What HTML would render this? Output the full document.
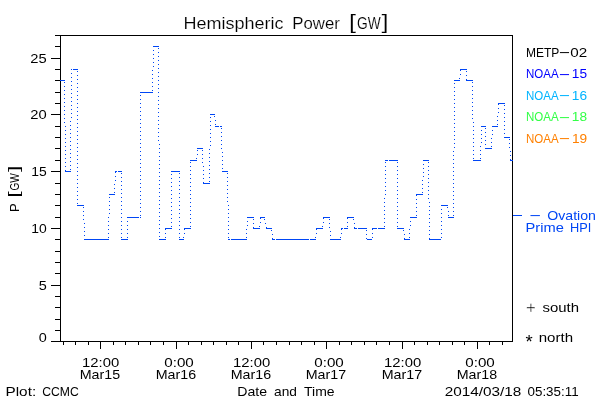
<!DOCTYPE html>
<html><head><meta charset="utf-8"><title>Hemispheric Power</title>
<style>html,body{margin:0;padding:0;background:#fff}svg{display:block}text{font-family:"Liberation Sans",sans-serif}</style>
</head><body>
<svg width="600" height="400" viewBox="0 0 600 400">
<rect width="600" height="400" fill="#fff"/>
<g stroke="#000" stroke-width="1" fill="none" shape-rendering="crispEdges">
<rect x="60.5" y="35.5" width="452" height="306"/>
<line x1="51" y1="341.5" x2="60" y2="341.5"/>
<line x1="55" y1="330.5" x2="60" y2="330.5"/>
<line x1="55" y1="319.5" x2="60" y2="319.5"/>
<line x1="55" y1="307.5" x2="60" y2="307.5"/>
<line x1="55" y1="296.5" x2="60" y2="296.5"/>
<line x1="51" y1="285.5" x2="60" y2="285.5"/>
<line x1="55" y1="273.5" x2="60" y2="273.5"/>
<line x1="55" y1="262.5" x2="60" y2="262.5"/>
<line x1="55" y1="251.5" x2="60" y2="251.5"/>
<line x1="55" y1="239.5" x2="60" y2="239.5"/>
<line x1="51" y1="228.5" x2="60" y2="228.5"/>
<line x1="55" y1="217.5" x2="60" y2="217.5"/>
<line x1="55" y1="205.5" x2="60" y2="205.5"/>
<line x1="55" y1="194.5" x2="60" y2="194.5"/>
<line x1="55" y1="183.5" x2="60" y2="183.5"/>
<line x1="51" y1="171.5" x2="60" y2="171.5"/>
<line x1="55" y1="160.5" x2="60" y2="160.5"/>
<line x1="55" y1="148.5" x2="60" y2="148.5"/>
<line x1="55" y1="137.5" x2="60" y2="137.5"/>
<line x1="55" y1="126.5" x2="60" y2="126.5"/>
<line x1="51" y1="114.5" x2="60" y2="114.5"/>
<line x1="55" y1="103.5" x2="60" y2="103.5"/>
<line x1="55" y1="92.5" x2="60" y2="92.5"/>
<line x1="55" y1="80.5" x2="60" y2="80.5"/>
<line x1="55" y1="69.5" x2="60" y2="69.5"/>
<line x1="51" y1="58.5" x2="60" y2="58.5"/>
<line x1="55" y1="46.5" x2="60" y2="46.5"/>
<line x1="55" y1="35.5" x2="60" y2="35.5"/>
<line x1="63.5" y1="342" x2="63.5" y2="345"/>
<line x1="75.5" y1="342" x2="75.5" y2="345"/>
<line x1="88.5" y1="342" x2="88.5" y2="345"/>
<line x1="100.5" y1="342" x2="100.5" y2="349"/>
<line x1="113.5" y1="342" x2="113.5" y2="345"/>
<line x1="125.5" y1="342" x2="125.5" y2="345"/>
<line x1="138.5" y1="342" x2="138.5" y2="345"/>
<line x1="150.5" y1="342" x2="150.5" y2="345"/>
<line x1="163.5" y1="342" x2="163.5" y2="345"/>
<line x1="176.5" y1="342" x2="176.5" y2="349"/>
<line x1="188.5" y1="342" x2="188.5" y2="345"/>
<line x1="201.5" y1="342" x2="201.5" y2="345"/>
<line x1="213.5" y1="342" x2="213.5" y2="345"/>
<line x1="226.5" y1="342" x2="226.5" y2="345"/>
<line x1="238.5" y1="342" x2="238.5" y2="345"/>
<line x1="251.5" y1="342" x2="251.5" y2="349"/>
<line x1="263.5" y1="342" x2="263.5" y2="345"/>
<line x1="276.5" y1="342" x2="276.5" y2="345"/>
<line x1="289.5" y1="342" x2="289.5" y2="345"/>
<line x1="301.5" y1="342" x2="301.5" y2="345"/>
<line x1="314.5" y1="342" x2="314.5" y2="345"/>
<line x1="326.5" y1="342" x2="326.5" y2="349"/>
<line x1="339.5" y1="342" x2="339.5" y2="345"/>
<line x1="351.5" y1="342" x2="351.5" y2="345"/>
<line x1="364.5" y1="342" x2="364.5" y2="345"/>
<line x1="376.5" y1="342" x2="376.5" y2="345"/>
<line x1="389.5" y1="342" x2="389.5" y2="345"/>
<line x1="402.5" y1="342" x2="402.5" y2="349"/>
<line x1="414.5" y1="342" x2="414.5" y2="345"/>
<line x1="427.5" y1="342" x2="427.5" y2="345"/>
<line x1="439.5" y1="342" x2="439.5" y2="345"/>
<line x1="452.5" y1="342" x2="452.5" y2="345"/>
<line x1="464.5" y1="342" x2="464.5" y2="345"/>
<line x1="477.5" y1="342" x2="477.5" y2="349"/>
<line x1="489.5" y1="342" x2="489.5" y2="345"/>
<line x1="502.5" y1="342" x2="502.5" y2="345"/>
</g>
<path fill="#0046f5" shape-rendering="crispEdges" d="M60 80h5v1h-5zM65 171h6v1h-6zM64 82h1v1h-1zM64 86h1v1h-1zM64 90h1v1h-1zM64 94h1v1h-1zM64 98h1v1h-1zM64 102h1v1h-1zM64 106h1v1h-1zM64 110h1v1h-1zM64 114h1v1h-1zM64 118h1v1h-1zM64 122h1v1h-1zM65 126h1v1h-1zM65 130h1v1h-1zM65 134h1v1h-1zM65 138h1v1h-1zM65 142h1v1h-1zM65 146h1v1h-1zM65 150h1v1h-1zM65 154h1v1h-1zM65 158h1v1h-1zM65 162h1v1h-1zM65 166h1v1h-1zM65 170h1v1h-1zM71 69h1v1h-1zM73 69h5v1h-5zM70 169h1v1h-1zM70 165h1v1h-1zM70 161h1v1h-1zM70 157h1v1h-1zM70 153h1v1h-1zM70 149h1v1h-1zM70 145h1v1h-1zM70 141h1v1h-1zM70 137h1v1h-1zM70 133h1v1h-1zM70 129h1v1h-1zM70 125h1v1h-1zM70 121h1v1h-1zM71 117h1v1h-1zM71 113h1v1h-1zM71 109h1v1h-1zM71 105h1v1h-1zM71 101h1v1h-1zM71 97h1v1h-1zM71 93h1v1h-1zM71 89h1v1h-1zM71 85h1v1h-1zM71 81h1v1h-1zM71 77h1v1h-1zM71 73h1v1h-1zM71 69h1v1h-1zM77 205h7v1h-7zM77 71h1v1h-1zM77 75h1v1h-1zM77 79h1v1h-1zM77 83h1v1h-1zM77 87h1v1h-1zM77 91h1v1h-1zM77 95h1v1h-1zM77 99h1v1h-1zM77 103h1v1h-1zM77 107h1v1h-1zM77 111h1v1h-1zM77 115h1v1h-1zM77 119h1v1h-1zM77 123h1v1h-1zM77 127h1v1h-1zM77 131h1v1h-1zM77 135h1v1h-1zM77 139h1v1h-1zM77 143h1v1h-1zM77 147h1v1h-1zM77 151h1v1h-1zM77 155h1v1h-1zM77 159h1v1h-1zM77 163h1v1h-1zM77 167h1v1h-1zM77 171h1v1h-1zM77 175h1v1h-1zM77 179h1v1h-1zM77 183h1v1h-1zM77 187h1v1h-1zM77 191h1v1h-1zM77 195h1v1h-1zM77 199h1v1h-1zM77 203h1v1h-1zM84 239h25v1h-25zM83 207h1v1h-1zM83 211h1v1h-1zM83 215h1v1h-1zM83 219h1v1h-1zM84 223h1v1h-1zM84 227h1v1h-1zM84 231h1v1h-1zM84 235h1v1h-1zM84 239h1v1h-1zM109 194h6v1h-6zM108 237h1v1h-1zM108 233h1v1h-1zM108 229h1v1h-1zM108 225h1v1h-1zM108 221h1v1h-1zM108 217h1v1h-1zM109 213h1v1h-1zM109 209h1v1h-1zM109 205h1v1h-1zM109 201h1v1h-1zM109 197h1v1h-1zM115 171h2v1h-2zM118 171h4v1h-4zM114 192h1v1h-1zM114 188h1v1h-1zM114 184h1v1h-1zM115 180h1v1h-1zM115 176h1v1h-1zM115 172h1v1h-1zM121 239h7v1h-7zM121 173h1v1h-1zM121 177h1v1h-1zM121 181h1v1h-1zM121 185h1v1h-1zM121 189h1v1h-1zM121 193h1v1h-1zM121 197h1v1h-1zM121 201h1v1h-1zM121 205h1v1h-1zM121 209h1v1h-1zM121 213h1v1h-1zM121 217h1v1h-1zM121 221h1v1h-1zM121 225h1v1h-1zM121 229h1v1h-1zM121 233h1v1h-1zM121 237h1v1h-1zM127 217h12v1h-12zM140 217h1v1h-1zM127 237h1v1h-1zM127 233h1v1h-1zM127 229h1v1h-1zM127 225h1v1h-1zM127 221h1v1h-1zM127 217h1v1h-1zM140 92h13v1h-13zM140 215h1v1h-1zM140 211h1v1h-1zM140 207h1v1h-1zM140 203h1v1h-1zM140 199h1v1h-1zM140 195h1v1h-1zM140 191h1v1h-1zM140 187h1v1h-1zM140 183h1v1h-1zM140 179h1v1h-1zM140 175h1v1h-1zM140 171h1v1h-1zM140 167h1v1h-1zM140 163h1v1h-1zM140 159h1v1h-1zM140 155h1v1h-1zM140 151h1v1h-1zM140 147h1v1h-1zM140 143h1v1h-1zM140 139h1v1h-1zM140 135h1v1h-1zM140 131h1v1h-1zM140 127h1v1h-1zM140 123h1v1h-1zM140 119h1v1h-1zM140 115h1v1h-1zM140 111h1v1h-1zM140 107h1v1h-1zM140 103h1v1h-1zM140 99h1v1h-1zM140 95h1v1h-1zM153 46h6v1h-6zM152 90h1v1h-1zM152 86h1v1h-1zM152 82h1v1h-1zM152 78h1v1h-1zM152 74h1v1h-1zM152 70h1v1h-1zM153 66h1v1h-1zM153 62h1v1h-1zM153 58h1v1h-1zM153 54h1v1h-1zM153 50h1v1h-1zM153 46h1v1h-1zM159 239h7v1h-7zM158 48h1v1h-1zM158 52h1v1h-1zM158 56h1v1h-1zM158 60h1v1h-1zM158 64h1v1h-1zM158 68h1v1h-1zM158 72h1v1h-1zM158 76h1v1h-1zM158 80h1v1h-1zM158 84h1v1h-1zM158 88h1v1h-1zM158 92h1v1h-1zM158 96h1v1h-1zM158 100h1v1h-1zM158 104h1v1h-1zM158 108h1v1h-1zM158 112h1v1h-1zM158 116h1v1h-1zM158 120h1v1h-1zM158 124h1v1h-1zM158 128h1v1h-1zM158 132h1v1h-1zM158 136h1v1h-1zM158 140h1v1h-1zM159 144h1v1h-1zM159 148h1v1h-1zM159 152h1v1h-1zM159 156h1v1h-1zM159 160h1v1h-1zM159 164h1v1h-1zM159 168h1v1h-1zM159 172h1v1h-1zM159 176h1v1h-1zM159 180h1v1h-1zM159 184h1v1h-1zM159 188h1v1h-1zM159 192h1v1h-1zM159 196h1v1h-1zM159 200h1v1h-1zM159 204h1v1h-1zM159 208h1v1h-1zM159 212h1v1h-1zM159 216h1v1h-1zM159 220h1v1h-1zM159 224h1v1h-1zM159 228h1v1h-1zM159 232h1v1h-1zM159 236h1v1h-1zM165 228h7v1h-7zM165 237h1v1h-1zM165 233h1v1h-1zM165 229h1v1h-1zM171 171h9v1h-9zM171 226h1v1h-1zM171 222h1v1h-1zM171 218h1v1h-1zM171 214h1v1h-1zM171 210h1v1h-1zM171 206h1v1h-1zM171 202h1v1h-1zM171 198h1v1h-1zM171 194h1v1h-1zM171 190h1v1h-1zM171 186h1v1h-1zM171 182h1v1h-1zM171 178h1v1h-1zM171 174h1v1h-1zM179 239h5v1h-5zM179 173h1v1h-1zM179 177h1v1h-1zM179 181h1v1h-1zM179 185h1v1h-1zM179 189h1v1h-1zM179 193h1v1h-1zM179 197h1v1h-1zM179 201h1v1h-1zM179 205h1v1h-1zM179 209h1v1h-1zM179 213h1v1h-1zM179 217h1v1h-1zM179 221h1v1h-1zM179 225h1v1h-1zM179 229h1v1h-1zM179 233h1v1h-1zM179 237h1v1h-1zM184 228h7v1h-7zM183 237h1v1h-1zM184 233h1v1h-1zM184 229h1v1h-1zM190 160h7v1h-7zM190 226h1v1h-1zM190 222h1v1h-1zM190 218h1v1h-1zM190 214h1v1h-1zM190 210h1v1h-1zM190 206h1v1h-1zM190 202h1v1h-1zM190 198h1v1h-1zM190 194h1v1h-1zM190 190h1v1h-1zM190 186h1v1h-1zM190 182h1v1h-1zM190 178h1v1h-1zM190 174h1v1h-1zM190 170h1v1h-1zM190 166h1v1h-1zM190 162h1v1h-1zM197 148h6v1h-6zM196 158h1v1h-1zM197 154h1v1h-1zM197 150h1v1h-1zM203 183h7v1h-7zM202 150h1v1h-1zM202 154h1v1h-1zM202 158h1v1h-1zM202 162h1v1h-1zM203 166h1v1h-1zM203 170h1v1h-1zM203 174h1v1h-1zM203 178h1v1h-1zM203 182h1v1h-1zM210 114h5v1h-5zM209 181h1v1h-1zM209 177h1v1h-1zM209 173h1v1h-1zM209 169h1v1h-1zM209 165h1v1h-1zM209 161h1v1h-1zM209 157h1v1h-1zM209 153h1v1h-1zM209 149h1v1h-1zM210 145h1v1h-1zM210 141h1v1h-1zM210 137h1v1h-1zM210 133h1v1h-1zM210 129h1v1h-1zM210 125h1v1h-1zM210 121h1v1h-1zM210 117h1v1h-1zM215 126h4v1h-4zM220 126h2v1h-2zM214 116h1v1h-1zM215 120h1v1h-1zM215 124h1v1h-1zM222 171h6v1h-6zM221 128h1v1h-1zM221 132h1v1h-1zM221 136h1v1h-1zM221 140h1v1h-1zM221 144h1v1h-1zM221 148h1v1h-1zM222 152h1v1h-1zM222 156h1v1h-1zM222 160h1v1h-1zM222 164h1v1h-1zM222 168h1v1h-1zM228 239h2v1h-2zM231 239h16v1h-16zM227 173h1v1h-1zM227 177h1v1h-1zM227 181h1v1h-1zM227 185h1v1h-1zM227 189h1v1h-1zM227 193h1v1h-1zM227 197h1v1h-1zM227 201h1v1h-1zM228 205h1v1h-1zM228 209h1v1h-1zM228 213h1v1h-1zM228 217h1v1h-1zM228 221h1v1h-1zM228 225h1v1h-1zM228 229h1v1h-1zM228 233h1v1h-1zM228 237h1v1h-1zM247 217h7v1h-7zM246 237h1v1h-1zM246 233h1v1h-1zM246 229h1v1h-1zM247 225h1v1h-1zM247 221h1v1h-1zM247 217h1v1h-1zM253 228h7v1h-7zM253 219h1v1h-1zM253 223h1v1h-1zM253 227h1v1h-1zM260 217h5v1h-5zM259 226h1v1h-1zM260 222h1v1h-1zM260 218h1v1h-1zM266 228h6v1h-6zM264 219h1v1h-1zM265 223h1v1h-1zM266 227h1v1h-1zM272 239h3v1h-3zM276 239h33v1h-33zM310 239h6v1h-6zM271 230h1v1h-1zM272 234h1v1h-1zM272 238h1v1h-1zM316 228h7v1h-7zM315 237h1v1h-1zM316 233h1v1h-1zM316 229h1v1h-1zM323 217h7v1h-7zM322 226h1v1h-1zM323 222h1v1h-1zM323 218h1v1h-1zM330 239h11v1h-11zM329 219h1v1h-1zM329 223h1v1h-1zM329 227h1v1h-1zM330 231h1v1h-1zM330 235h1v1h-1zM330 239h1v1h-1zM341 228h2v1h-2zM344 228h4v1h-4zM340 237h1v1h-1zM341 233h1v1h-1zM341 229h1v1h-1zM347 217h7v1h-7zM347 226h1v1h-1zM347 222h1v1h-1zM347 218h1v1h-1zM354 228h3v1h-3zM358 228h9v1h-9zM353 219h1v1h-1zM354 223h1v1h-1zM354 227h1v1h-1zM367 239h5v1h-5zM366 230h1v1h-1zM366 234h1v1h-1zM366 238h1v1h-1zM372 228h5v1h-5zM378 228h7v1h-7zM372 237h1v1h-1zM372 233h1v1h-1zM372 229h1v1h-1zM385 160h3v1h-3zM389 160h9v1h-9zM384 226h1v1h-1zM384 222h1v1h-1zM384 218h1v1h-1zM384 214h1v1h-1zM384 210h1v1h-1zM384 206h1v1h-1zM384 202h1v1h-1zM384 198h1v1h-1zM385 194h1v1h-1zM385 190h1v1h-1zM385 186h1v1h-1zM385 182h1v1h-1zM385 178h1v1h-1zM385 174h1v1h-1zM385 170h1v1h-1zM385 166h1v1h-1zM385 162h1v1h-1zM397 228h7v1h-7zM397 162h1v1h-1zM397 166h1v1h-1zM397 170h1v1h-1zM397 174h1v1h-1zM397 178h1v1h-1zM397 182h1v1h-1zM397 186h1v1h-1zM397 190h1v1h-1zM397 194h1v1h-1zM397 198h1v1h-1zM397 202h1v1h-1zM397 206h1v1h-1zM397 210h1v1h-1zM397 214h1v1h-1zM397 218h1v1h-1zM397 222h1v1h-1zM397 226h1v1h-1zM404 239h6v1h-6zM403 230h1v1h-1zM404 234h1v1h-1zM404 238h1v1h-1zM410 217h7v1h-7zM409 237h1v1h-1zM409 233h1v1h-1zM409 229h1v1h-1zM410 225h1v1h-1zM410 221h1v1h-1zM410 217h1v1h-1zM416 194h7v1h-7zM416 215h1v1h-1zM416 211h1v1h-1zM416 207h1v1h-1zM416 203h1v1h-1zM416 199h1v1h-1zM416 195h1v1h-1zM423 160h6v1h-6zM422 192h1v1h-1zM422 188h1v1h-1zM422 184h1v1h-1zM422 180h1v1h-1zM423 176h1v1h-1zM423 172h1v1h-1zM423 168h1v1h-1zM423 164h1v1h-1zM423 160h1v1h-1zM429 239h12v1h-12zM428 162h1v1h-1zM428 166h1v1h-1zM428 170h1v1h-1zM428 174h1v1h-1zM428 178h1v1h-1zM428 182h1v1h-1zM428 186h1v1h-1zM428 190h1v1h-1zM428 194h1v1h-1zM428 198h1v1h-1zM429 202h1v1h-1zM429 206h1v1h-1zM429 210h1v1h-1zM429 214h1v1h-1zM429 218h1v1h-1zM429 222h1v1h-1zM429 226h1v1h-1zM429 230h1v1h-1zM429 234h1v1h-1zM429 238h1v1h-1zM442 205h6v1h-6zM441 237h1v1h-1zM441 233h1v1h-1zM441 229h1v1h-1zM441 225h1v1h-1zM441 221h1v1h-1zM441 217h1v1h-1zM441 213h1v1h-1zM441 209h1v1h-1zM441 205h1v1h-1zM448 217h6v1h-6zM447 207h1v1h-1zM448 211h1v1h-1zM448 215h1v1h-1zM454 80h6v1h-6zM453 215h1v1h-1zM453 211h1v1h-1zM453 207h1v1h-1zM453 203h1v1h-1zM453 199h1v1h-1zM453 195h1v1h-1zM453 191h1v1h-1zM453 187h1v1h-1zM453 183h1v1h-1zM453 179h1v1h-1zM453 175h1v1h-1zM453 171h1v1h-1zM453 167h1v1h-1zM453 163h1v1h-1zM453 159h1v1h-1zM453 155h1v1h-1zM453 151h1v1h-1zM454 147h1v1h-1zM454 143h1v1h-1zM454 139h1v1h-1zM454 135h1v1h-1zM454 131h1v1h-1zM454 127h1v1h-1zM454 123h1v1h-1zM454 119h1v1h-1zM454 115h1v1h-1zM454 111h1v1h-1zM454 107h1v1h-1zM454 103h1v1h-1zM454 99h1v1h-1zM454 95h1v1h-1zM454 91h1v1h-1zM454 87h1v1h-1zM454 83h1v1h-1zM460 69h7v1h-7zM459 78h1v1h-1zM460 74h1v1h-1zM460 70h1v1h-1zM466 80h7v1h-7zM466 71h1v1h-1zM466 75h1v1h-1zM466 79h1v1h-1zM473 160h8v1h-8zM472 82h1v1h-1zM472 86h1v1h-1zM472 90h1v1h-1zM472 94h1v1h-1zM472 98h1v1h-1zM472 102h1v1h-1zM472 106h1v1h-1zM472 110h1v1h-1zM472 114h1v1h-1zM472 118h1v1h-1zM473 122h1v1h-1zM473 126h1v1h-1zM473 130h1v1h-1zM473 134h1v1h-1zM473 138h1v1h-1zM473 142h1v1h-1zM473 146h1v1h-1zM473 150h1v1h-1zM473 154h1v1h-1zM473 158h1v1h-1zM481 126h5v1h-5zM480 158h1v1h-1zM480 154h1v1h-1zM480 150h1v1h-1zM480 146h1v1h-1zM481 142h1v1h-1zM481 138h1v1h-1zM481 134h1v1h-1zM481 130h1v1h-1zM481 126h1v1h-1zM485 148h7v1h-7zM485 128h1v1h-1zM485 132h1v1h-1zM485 136h1v1h-1zM485 140h1v1h-1zM485 144h1v1h-1zM485 148h1v1h-1zM492 126h6v1h-6zM491 146h1v1h-1zM491 142h1v1h-1zM491 138h1v1h-1zM492 134h1v1h-1zM492 130h1v1h-1zM492 126h1v1h-1zM498 103h7v1h-7zM497 124h1v1h-1zM497 120h1v1h-1zM497 116h1v1h-1zM498 112h1v1h-1zM498 108h1v1h-1zM498 104h1v1h-1zM504 137h6v1h-6zM504 105h1v1h-1zM504 109h1v1h-1zM504 113h1v1h-1zM504 117h1v1h-1zM504 121h1v1h-1zM504 125h1v1h-1zM504 129h1v1h-1zM504 133h1v1h-1zM504 137h1v1h-1zM510 160h3v1h-3zM509 139h1v1h-1zM509 143h1v1h-1zM509 147h1v1h-1zM510 151h1v1h-1zM510 155h1v1h-1zM510 159h1v1h-1z"/>
<g stroke="#0046f5" stroke-width="1" shape-rendering="crispEdges"><line x1="513" y1="215.5" x2="522" y2="215.5"/></g>
<g stroke="#fff" stroke-width="0.15">
<text y="28.7" font-size="16.5" fill="#000" xml:space="preserve"><tspan x="183.5" textLength="100.11" lengthAdjust="spacingAndGlyphs">Hemispheric</tspan> <tspan x="292.35" textLength="47.56" lengthAdjust="spacingAndGlyphs">Power</tspan> <tspan x="349.08" font-size="19.8" textLength="7.06" lengthAdjust="spacingAndGlyphs">[</tspan><tspan x="357.02" textLength="23.62" lengthAdjust="spacingAndGlyphs">GW</tspan><tspan x="381.6" font-size="19.8" textLength="7.06" lengthAdjust="spacingAndGlyphs">]</tspan></text>
</g>
<g>
<text x="38.65" y="341.6" font-size="13" textLength="8.05" lengthAdjust="spacingAndGlyphs" fill="#000">0</text>
<text x="38.65" y="290.0" font-size="13" textLength="8.05" lengthAdjust="spacingAndGlyphs" fill="#000">5</text>
<text x="31.2" y="233.0" font-size="13" textLength="15.47" lengthAdjust="spacingAndGlyphs" fill="#000">10</text>
<text x="31.2" y="176.0" font-size="13" textLength="15.47" lengthAdjust="spacingAndGlyphs" fill="#000">15</text>
<text x="30.3" y="119.0" font-size="13" textLength="16.4" lengthAdjust="spacingAndGlyphs" fill="#000">20</text>
<text x="30.3" y="63.0" font-size="13" textLength="16.4" lengthAdjust="spacingAndGlyphs" fill="#000">25</text>
<text x="82.0" y="366.8" font-size="13.6" textLength="37.17" lengthAdjust="spacingAndGlyphs" fill="#000">12:00</text>
<text x="79.75" y="378.8" font-size="13.6" textLength="40.36" lengthAdjust="spacingAndGlyphs" fill="#000">Mar15</text>
<text x="164.25" y="366.8" font-size="13.6" textLength="29.53" lengthAdjust="spacingAndGlyphs" fill="#000">0:00</text>
<text x="155.75" y="378.8" font-size="13.6" textLength="40.36" lengthAdjust="spacingAndGlyphs" fill="#000">Mar16</text>
<text x="233.0" y="366.8" font-size="13.6" textLength="37.17" lengthAdjust="spacingAndGlyphs" fill="#000">12:00</text>
<text x="230.75" y="378.8" font-size="13.6" textLength="40.36" lengthAdjust="spacingAndGlyphs" fill="#000">Mar16</text>
<text x="314.25" y="366.8" font-size="13.6" textLength="29.53" lengthAdjust="spacingAndGlyphs" fill="#000">0:00</text>
<text x="305.75" y="378.8" font-size="13.6" textLength="40.36" lengthAdjust="spacingAndGlyphs" fill="#000">Mar17</text>
<text x="384.0" y="366.8" font-size="13.6" textLength="37.17" lengthAdjust="spacingAndGlyphs" fill="#000">12:00</text>
<text x="381.75" y="378.8" font-size="13.6" textLength="40.36" lengthAdjust="spacingAndGlyphs" fill="#000">Mar17</text>
<text x="465.25" y="366.8" font-size="13.6" textLength="29.53" lengthAdjust="spacingAndGlyphs" fill="#000">0:00</text>
<text x="456.75" y="378.8" font-size="13.6" textLength="40.36" lengthAdjust="spacingAndGlyphs" fill="#000">Mar18</text>
<text y="395.6" font-size="13.6" fill="#000" xml:space="preserve"><tspan x="5.52" textLength="30.63" lengthAdjust="spacingAndGlyphs">Plot:</tspan> <tspan x="42.28" textLength="36.55" lengthAdjust="spacingAndGlyphs">CCMC</tspan></text>
<text y="395.5" font-size="13.6" fill="#000" xml:space="preserve"><tspan x="237.35" textLength="29.78" lengthAdjust="spacingAndGlyphs">Date</tspan> <tspan x="274.05" textLength="22.9" lengthAdjust="spacingAndGlyphs">and</tspan> <tspan x="304.08" textLength="30.53" lengthAdjust="spacingAndGlyphs">Time</tspan></text>
<text y="396.2" font-size="13.6" fill="#000" xml:space="preserve"><tspan x="444.78" textLength="76.61" lengthAdjust="spacingAndGlyphs">2014/03/18</tspan> <tspan x="527.5" textLength="51.14" lengthAdjust="spacingAndGlyphs">05:35:11</tspan></text>
<text y="57" font-size="13.6" fill="#000" xml:space="preserve"><tspan x="525.92" textLength="33.36" lengthAdjust="spacingAndGlyphs">METP</tspan><tspan x="558.35" dy="-0.88" textLength="12.46" lengthAdjust="spacingAndGlyphs">-</tspan><tspan x="570.22" dy="0.88" textLength="16.91" lengthAdjust="spacingAndGlyphs">02</tspan></text>
<text y="78.4" font-size="13.6" fill="#0000ff" xml:space="preserve"><tspan x="525.92" textLength="32.68" lengthAdjust="spacingAndGlyphs">NOAA</tspan><tspan x="558.35" dy="-0.28" textLength="12.46" lengthAdjust="spacingAndGlyphs">-</tspan><tspan x="571.78" dy="0.28" textLength="15.24" lengthAdjust="spacingAndGlyphs">15</tspan></text>
<text y="99.8" font-size="13.6" fill="#00b4ff" xml:space="preserve"><tspan x="525.92" textLength="32.68" lengthAdjust="spacingAndGlyphs">NOAA</tspan><tspan x="558.35" dy="-0.68" textLength="12.46" lengthAdjust="spacingAndGlyphs">-</tspan><tspan x="571.78" dy="0.68" textLength="15.24" lengthAdjust="spacingAndGlyphs">16</tspan></text>
<text y="121.3" font-size="13.6" fill="#32ff46" xml:space="preserve"><tspan x="525.92" textLength="32.68" lengthAdjust="spacingAndGlyphs">NOAA</tspan><tspan x="558.35" dy="-0.18" textLength="12.46" lengthAdjust="spacingAndGlyphs">-</tspan><tspan x="571.78" dy="0.18" textLength="15.24" lengthAdjust="spacingAndGlyphs">18</tspan></text>
<text y="142.7" font-size="13.6" fill="#ff8000" xml:space="preserve"><tspan x="525.92" textLength="32.68" lengthAdjust="spacingAndGlyphs">NOAA</tspan><tspan x="558.35" dy="-0.58" textLength="12.46" lengthAdjust="spacingAndGlyphs">-</tspan><tspan x="571.9" dy="0.58" textLength="15.24" lengthAdjust="spacingAndGlyphs">19</tspan></text>
<text y="219.6" font-size="13" fill="#0046f5" xml:space="preserve"><tspan x="528.85" dy="-0.66" textLength="12.91" lengthAdjust="spacingAndGlyphs">-</tspan> <tspan x="547.25" dy="0.66" textLength="48.68" lengthAdjust="spacingAndGlyphs">Ovation</tspan></text>
<text y="231.8" font-size="13" fill="#0046f5" xml:space="preserve"><tspan x="525.52" textLength="38.27" lengthAdjust="spacingAndGlyphs">Prime</tspan> <tspan x="570.1" textLength="21.28" lengthAdjust="spacingAndGlyphs">HPI</tspan></text>
<g stroke="#fff" stroke-width="0.35">
<text x="526.02" y="313.1" font-size="17" textLength="9.76" lengthAdjust="spacingAndGlyphs" fill="#000">+</text>
</g>
<text x="542.5" y="312" font-size="13" textLength="36.51" lengthAdjust="spacingAndGlyphs" fill="#000">south</text>
<text x="525.5" y="347.9" font-size="18.5" textLength="7.2" lengthAdjust="spacingAndGlyphs" fill="#000">*</text>
<text x="538.72" y="342" font-size="13" textLength="34.3" lengthAdjust="spacingAndGlyphs" fill="#000">north</text>
<text transform="translate(18.8,211) rotate(-90)" y="0" font-size="13" fill="#000" xml:space="preserve"><tspan x="-1.1" textLength="8.55" lengthAdjust="spacingAndGlyphs">P</tspan> <tspan x="13.5" font-size="14.6" textLength="6.09" lengthAdjust="spacingAndGlyphs">[</tspan><tspan x="20.5" textLength="17.18" lengthAdjust="spacingAndGlyphs">GW</tspan><tspan x="39.05" font-size="14.6" textLength="6.45" lengthAdjust="spacingAndGlyphs">]</tspan></text>
</g>
</svg></body></html>
